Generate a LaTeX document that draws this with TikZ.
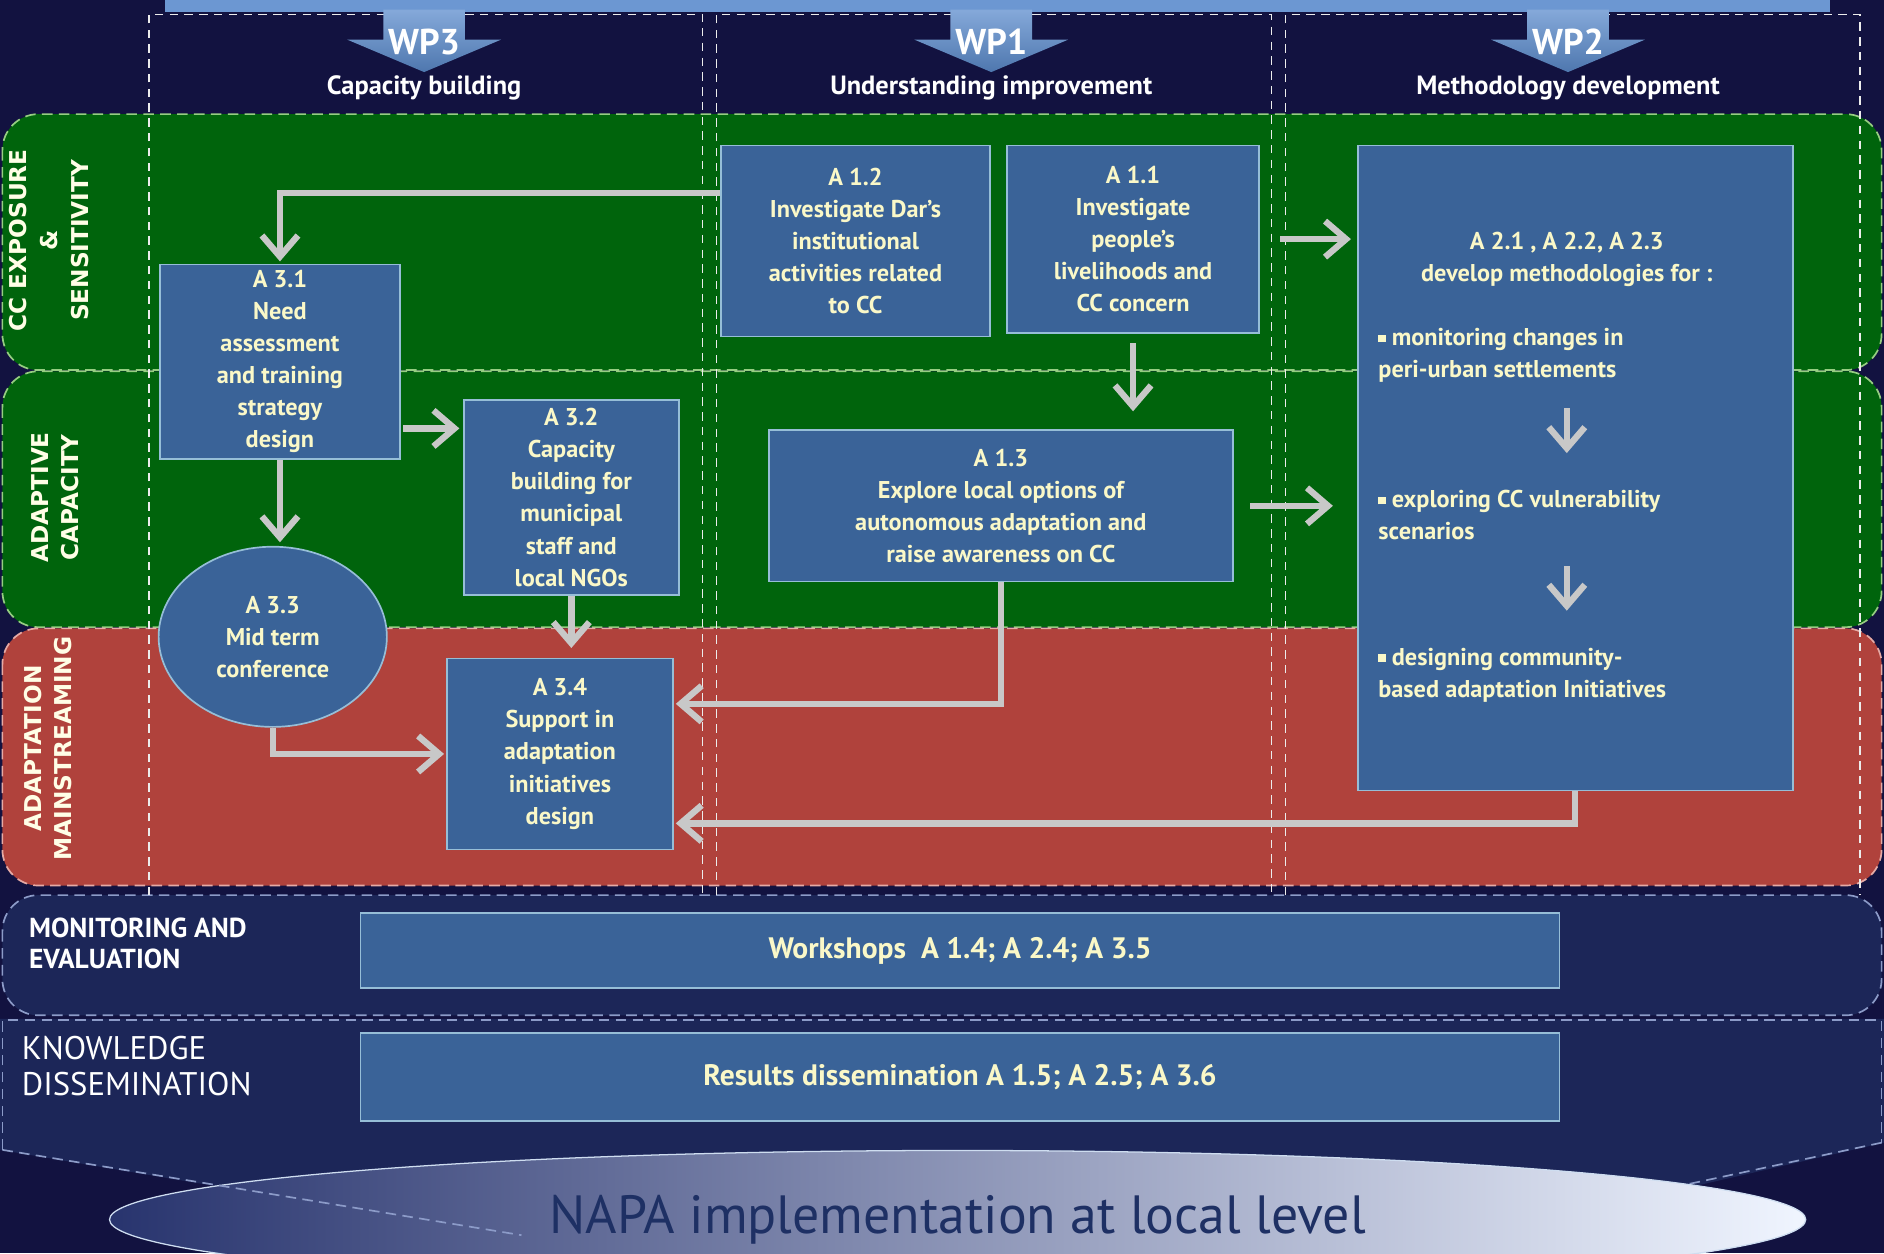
\documentclass[tikz,border=0pt]{standalone}
\usepackage{fontspec}
\setmainfont{PT Sans}
\newfontfamily\labelfont{DejaVu Sans}
\usetikzlibrary{arrows.meta,shapes.geometric,calc}

\definecolor{navybg}{RGB}{18,18,64}
\definecolor{navyband}{RGB}{28,38,88}
\definecolor{bandgreen}{RGB}{0,100,12}
\definecolor{bandred}{RGB}{176,66,60}
\definecolor{greenline}{RGB}{150,205,130}
\definecolor{redline}{RGB}{230,170,165}
\definecolor{bandline}{RGB}{140,155,200}
\definecolor{boxblue}{RGB}{58,99,152}
\definecolor{boxline}{RGB}{150,190,215}
\definecolor{txtyellow}{RGB}{250,248,200}
\definecolor{flowgray}{RGB}{200,200,200}
\definecolor{wpblue}{RGB}{92,140,205}
\definecolor{napadark}{RGB}{30,48,100}

\newcommand{\sqbul}{\rule[0.3ex]{0.3em}{0.3em}}

\begin{document}
\begin{tikzpicture}[x=0.02cm, y=-0.02cm,
    every node/.style={font=\bfseries\fontsize{11.5}{15.2}\selectfont, text=txtyellow},
    abox/.style={draw=boxline, fill=boxblue, line width=0.8pt, align=center, inner sep=2pt},
    flow/.style={draw=flowgray, line width=3pt, -{Straight Barb[length=3.5mm,width=6mm]}},
    band/.style={dashed, dash pattern=on 5pt off 3pt, line width=0.8pt, rounded corners=0.6cm},
    coldash/.style={draw=white!85!gray, line width=0.5pt, dash pattern=on 4pt off 3pt},
    rowlabel/.style={rotate=90, align=center, text=white!90!yellow, font=\labelfont\bfseries\fontsize{11}{14.6}\selectfont},
  ]
    \clip (0,0) rectangle (1568,1043);
    \fill[navybg] (0,0) rectangle (1568,1043);

    % Lower bands: monitoring, knowledge and funnel
    \fill[navyband] (0,848) -- (1568,848) -- (1568,951) -- (1398,990) -- (434,1030) -- (0,957) -- cycle;
    \draw[band, draw=bandline, fill=navyband] (2,745) rectangle (1566,845);
    \draw[bandline, dashed, dash pattern=on 5pt off 3pt, line width=0.8pt] (2,957) -- (2,849) -- (1566,849) -- (1566,951);
    \draw[bandline, dashed, dash pattern=on 5pt off 3pt, line width=0.8pt] (1566,951) -- (1398,987);

    % Row bands
    \draw[band, draw=greenline, fill=bandgreen] (2,95) rectangle (1566,308);
    \draw[band, draw=greenline, fill=bandgreen] (2,309) rectangle (1566,522);
    \draw[band, draw=redline, fill=bandred] (2,523) rectangle (1566,737);

    % Work package columns
    \foreach \l/\r in {124/585, 596/1058, 1070/1548} {
        \draw[coldash] (\l,745) -- (\l,12) -- (\r,12) -- (\r,745);
    }
    \fill[wpblue!90!white] (137,0) rectangle (1523,10);
    \foreach \x/\wp/\title in {353/WP3/Capacity building, 825/WP1/Understanding improvement, 1305/WP2/Methodology development} {
        \shade[top color=wpblue!75!white, bottom color=wpblue!85!black]
            (\x-34,8) -- (\x+34,8) -- (\x+34,33) -- (\x+64,33) -- (\x,60) -- (\x-64,33) -- (\x-34,33) -- cycle;
        \node[text=white, font=\bfseries\fontsize{17}{17}\selectfont] (\wp) at (\x,35) {\wp};
        \node[text=white, font=\bfseries\fontsize{12.5}{12.5}\selectfont] (t\wp) at (\x,73) {\title};
    }

    % Row labels
    \node[rowlabel] (lexp) at (41,200) {CC EXPOSURE\\\&\\SENSITIVITY};
    \node[rowlabel] (ladapt) at (46,414) {ADAPTIVE\\CAPACITY};
    \node[rowlabel] (lmain) at (40,623) {ADAPTATION\\MAINSTREAMING};
    \node[anchor=west, align=left, text=white, font=\bfseries\fontsize{13}{14.8}\selectfont] (lmon) at (18,785) {MONITORING AND\\EVALUATION};
    \node[anchor=west, align=left, text=white, font=\fontsize{15.5}{17}\selectfont] (lknow) at (12,887) {KNOWLEDGE\\DISSEMINATION};

    % WP1 activities
    \node[abox, minimum width=4.48cm, minimum height=3.18cm] (a12) at (712,200.5) {A 1.2\\Investigate Dar's\\institutional\\activities related\\to CC};
    \node[abox, minimum width=4.2cm, minimum height=3.12cm] (a11) at (943,199) {A 1.1\\Investigate\\people's\\livelihoods and\\CC concern};
    \node[abox, minimum width=7.72cm, minimum height=2.52cm] (a13) at (833,421) {A 1.3\\Explore local options of\\autonomous adaptation and\\raise awareness on CC};

    % WP2 activities
    \node[abox, minimum width=7.24cm, minimum height=10.74cm] (a2) at (1311,389.5) {};
    \node[align=center] (a2head) at (1304,216) {A 2.1 , A 2.2, A 2.3\\develop methodologies for :};
    \node[anchor=west, align=left] (a2b1) at (1141,296) {\sqbul\ monitoring changes in\\peri-urban settlements};
    \node[anchor=west, align=left] (a2b2) at (1141,429) {\sqbul\ exploring CC vulnerability\\scenarios};
    \node[anchor=west, align=left] (a2b3) at (1141,562) {\sqbul\ designing community-\\based adaptation Initiatives};

    % WP3 activities
    \node[abox, minimum width=4.0cm, minimum height=3.24cm] (a31) at (233,301) {A 3.1\\Need\\assessment\\and training\\strategy\\design};
    \node[abox, minimum width=3.58cm, minimum height=3.24cm] (a32) at (475.5,414) {A 3.2\\Capacity\\building for\\municipal\\staff and\\local NGOs};
    \node[abox, ellipse, minimum width=3.8cm, minimum height=3.0cm] (a33) at (227,530) {A 3.3\\Mid term\\conference};
    \node[abox, minimum width=3.76cm, minimum height=3.18cm] (a34) at (466,627.5) {A 3.4\\Support in\\adaptation\\initiatives\\design};

    % Cross-cutting activities
    \node[abox, minimum width=19.96cm, minimum height=1.24cm, font=\bfseries\fontsize{14}{14}\selectfont] (ws) at (799,791) {Workshops\ \ A 1.4; A 2.4; A 3.5};
    \node[abox, minimum width=19.96cm, minimum height=1.46cm, font=\bfseries\fontsize{14}{14}\selectfont] (rd) at (799,896.5) {Results dissemination A 1.5; A 2.5; A 3.6};

    % Connectors
    \coordinate (a12out) at ($(a12.north west)!0.25!(a12.south west)$);
    \coordinate (a31out) at ($(a31.south east)!0.16!(a31.north east)$);
    \coordinate (a34in1) at ($(a34.north east)!0.24!(a34.south east)$);
    \coordinate (a34in2) at ($(a34.north east)!0.86!(a34.south east)$);
    \draw[flow, shorten >=1pt] (a12out) -| (a31.north);
    \draw[flow, shorten <=0.34cm, shorten >=0.1cm] (a11.east) -- (a11.east -| a2.west);
    \draw[flow, shorten <=0.16cm, shorten >=0.3cm] (a11.south) -- (a11.south |- a13.north);
    \draw[flow, shorten <=0.28cm, shorten >=0.4cm] (a13.east) -- (a13.east -| a2.west);
    \draw[flow, shorten <=0.04cm, shorten >=0.06cm] (a31out) -- (a31out -| a32.west);
    \draw[flow, shorten >=0.06cm] (a31.south) -- (a31.south |- a33.north);
    \draw[flow, shorten >=0.16cm] (a32.south) -- (a32.south |- a34.north);
    \draw[flow, shorten >=1pt] (a13.south) |- (a34in1);
    \draw[flow, shorten >=1pt] (a33.south) |- (a34.west);
    \draw[flow, shorten >=1pt] (a2.south) |- (a34in2);
    \draw[flow, shorten <=0.3cm, shorten >=0.5cm] (a2head.center |- a2b1.south) -- (a2head.center |- a2b2.north);
    \draw[flow, shorten <=0.3cm, shorten >=0.5cm] (a2head.center |- a2b2.south) -- (a2head.center |- a2b3.north);

    % Goal
    \node[ellipse, draw=white!70!wpblue, line width=0.6pt, left color={rgb,255:red,40;green,52;blue,110}, middle color={rgb,255:red,195;green,212;blue,242}, right color={rgb,255:red,240;green,245;blue,255}, minimum width=28.24cm, minimum height=2.3cm, inner sep=0pt, text=napadark, font=\fontsize{25.5}{25.5}\selectfont] (napa) at (797,1015) {NAPA implementation at local level};
    \draw[bandline, dashed, dash pattern=on 5pt off 3pt, line width=0.8pt] (2,957) -- (434,1028);
\end{tikzpicture}
\end{document}
